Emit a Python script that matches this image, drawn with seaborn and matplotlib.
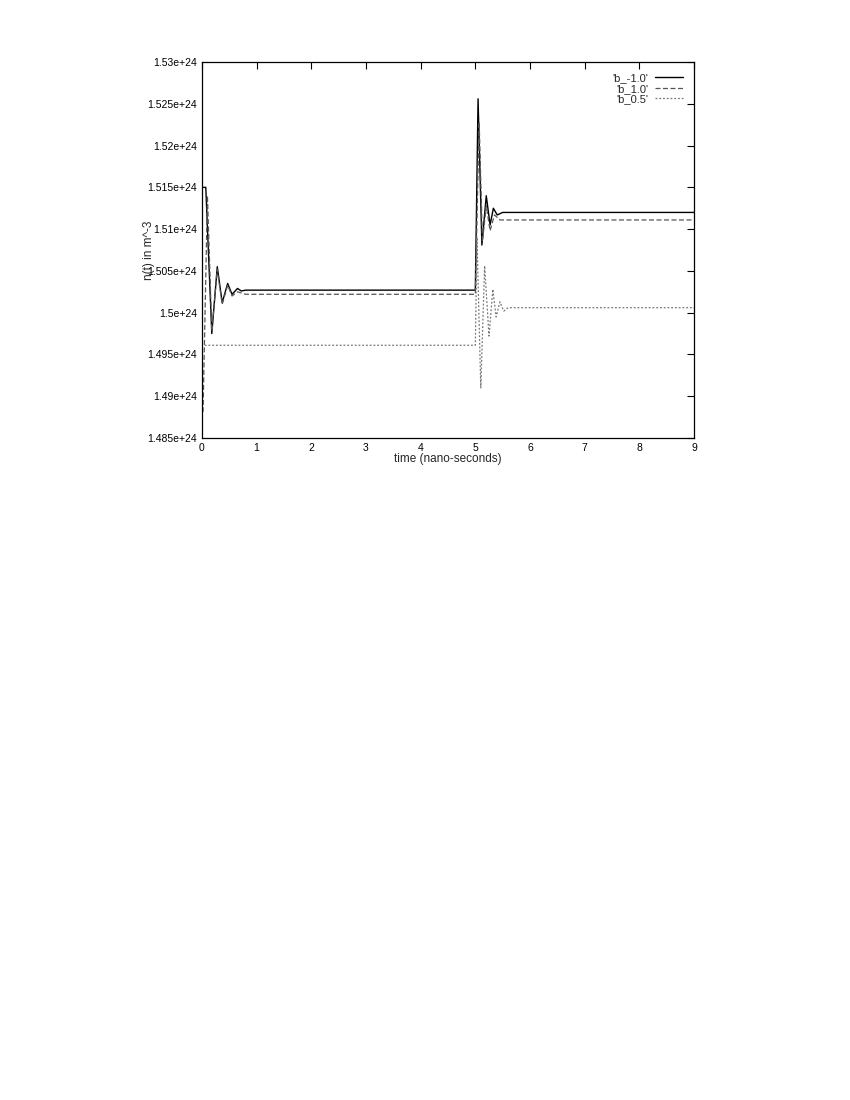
import numpy as np
import pandas as pd
import matplotlib
matplotlib.use("Agg")
import matplotlib.pyplot as plt
import seaborn as sns
from matplotlib.ticker import MultipleLocator, FuncFormatter

# values (n in units of 1e24 m^-3, t in ns)
t_bm1 = [0, 0.07, 0.12, 0.18, 0.28, 0.37, 0.47, 0.55, 0.65, 0.72, 0.8, 5.0, 5.05, 5.12, 5.2, 5.27, 5.33, 5.4, 5.5, 9.0]
n_bm1 = [1.515, 1.515, 1.507, 1.4975, 1.5055, 1.5012, 1.5035, 1.5022, 1.5029, 1.5026, 1.5027,
         1.5027, 1.5256, 1.5081, 1.5140, 1.5105, 1.5125, 1.5117, 1.5120, 1.5120]

t_b1 = [0, 0.02, 0.1, 0.18, 0.28, 0.37, 0.47, 0.55, 0.65, 0.8, 5.0, 5.07, 5.13, 5.2, 5.27, 5.35, 5.45, 9.0]
n_b1 = [1.4882, 1.4882, 1.5140, 1.4978, 1.5052, 1.5010, 1.5033, 1.5020, 1.5025, 1.5022,
        1.5022, 1.5228, 1.5085, 1.5128, 1.5098, 1.5117, 1.5111, 1.5111]

t_b05 = [0.05, 5.0, 5.03, 5.1, 5.17, 5.25, 5.32, 5.38, 5.45, 5.52, 5.6, 9.0]
n_b05 = [1.4961, 1.4961, 1.5090, 1.4910, 1.5056, 1.4972, 1.5028, 1.4995, 1.5013, 1.5002, 1.5006, 1.5006]

yticks = [1.485, 1.49, 1.495, 1.5, 1.505, 1.51, 1.515, 1.52, 1.525, 1.53]

sns.set_style("white")
plt.rcParams['font.family'] = ['Liberation Sans', 'DejaVu Sans']

fig = plt.figure(figsize=(8.5, 11), dpi=100)
ax = fig.add_axes([0.2376, 0.6018, 0.5789, 0.3418])

series = [
    ("'b_-1.0'", t_bm1, n_bm1, dict(color="black", lw=1.0, linestyle="-")),
    ("'b_1.0'", t_b1, n_b1, dict(color="#555555", lw=0.9, linestyle=(0, (4, 2)))),
    ("'b_0.5'", t_b05, n_b05, dict(color="#777777", lw=0.9, linestyle=(0, (1.5, 1.5)))),
]
for name, t, n, st in series:
    df = pd.DataFrame({"t": t, "n": np.array(n) * 1e24})
    sns.lineplot(data=df, x="t", y="n", ax=ax, label=name, sort=False, **st)

ax.set_xlim(0, 9)
ax.set_ylim(1.485e24, 1.53e24)
ax.set_yticks(np.array(yticks) * 1e24)
ax.yaxis.set_major_formatter(FuncFormatter(lambda v, p: "%ge+24" % round(v / 1e24, 4)))
ax.xaxis.set_major_locator(MultipleLocator(1))
ax.tick_params(direction="in", top=True, right=True, length=5, width=0.8, labelsize=7.5, colors="black")
for sp in ax.spines.values():
    sp.set_color("black")
    sp.set_linewidth(0.9)

ax.set_xlabel("time (nano-seconds)", fontsize=8.5, labelpad=0)
ax.set_ylabel("n(t) in m^-3", fontsize=8.5)
ax.yaxis.set_label_coords(-0.095, 0.5)

ax.legend(loc="upper right", frameon=False, markerfirst=False, fontsize=8,
          handlelength=2.5, labelspacing=0.05, borderaxespad=0.6, handletextpad=0.6)

fig.savefig("out.png", dpi=100)
